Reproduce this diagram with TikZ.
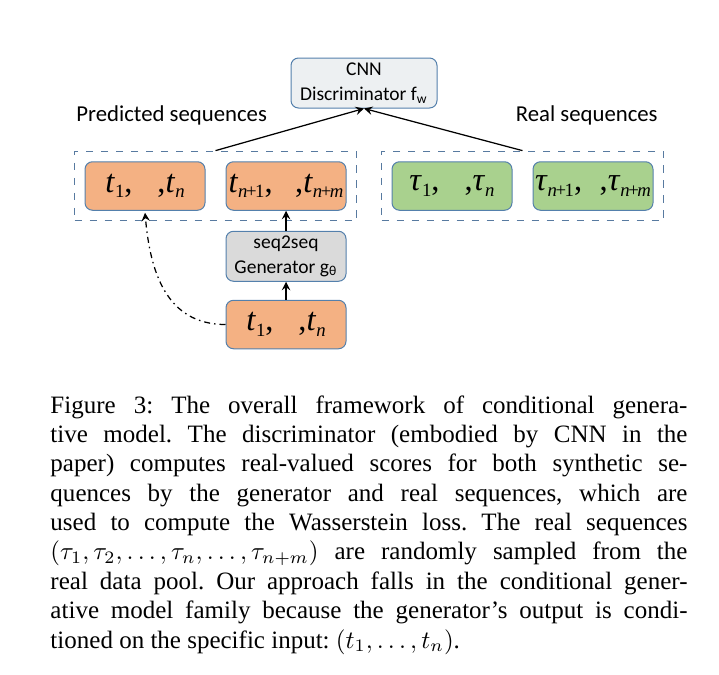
\documentclass[tikz,border=0pt]{standalone}
\usepackage{fontspec}
\setmainfont{Liberation Serif}
\newfontfamily\calib{Carlito}
\usepackage{tikz}
\usepackage{xcolor}
\usetikzlibrary{positioning,fit,calc}
\definecolor{boxline}{RGB}{84,128,172}
\definecolor{groupline}{RGB}{88,122,160}
\definecolor{predfill}{RGB}{244,177,131}
\definecolor{realfill}{RGB}{169,209,142}
\definecolor{cnnfill}{RGB}{237,240,242}
\definecolor{genfill}{RGB}{218,218,218}
\newcommand\seqsub[1]{\raisebox{-2.2pt}{\fontsize{7.5}{7.5}\selectfont #1}}
\newcommand\seqtok[2]{\textit{#1}\seqsub{#2}}
\newcommand\tplus{\kern-0.6pt\upshape+\kern-0.6pt}
\tikzset{
    seq-box/.style = {draw=boxline, line width=0.4pt, rectangle, rounded corners=3pt, minimum width=48pt, minimum height=19.4pt, inner sep=0pt, font=\rmfamily\fontsize{13}{13}\selectfont},
    orange-box/.style = {seq-box, fill=predfill},
    green-box/.style = {seq-box, fill=realfill},
    gray-box/.style = {seq-box, align=center, font=\calib\fontsize{7.8}{10}\selectfont},
    dashed-group/.style = {draw=groupline, dashed, line width=0.5pt, inner sep=4pt},
    seq-label/.style = {inner sep=0pt, font=\calib\fontsize{9.1}{10}\selectfont},
    caption-text/.style = {inner sep=0pt, text width=254.8pt, align=justify, font=\frenchspacing\fontsize{10}{11.75}\selectfont},
}

\begin{document}
\begin{tikzpicture}[x=0.4pt, y=-0.4pt, >=stealth]
\useasboundingbox (0,0) rectangle (719,674);
% discriminator
\node [gray-box, fill=cnnfill, minimum width=58.4pt, minimum height=20pt] (cnn) at (364,83) {CNN\\Discriminator f\textsubscript{w}};
% predicted sequences
\node [orange-box] (pred1) at (145,186) {\seqtok{t}{1},\hspace{10pt},\seqtok{t}{\textit{n}}};
\node [orange-box, right=8pt of pred1] (pred2) {\seqtok{t}{\textit{n}\tplus 1},\hspace{9pt},\seqtok{t}{\textit{n}\tplus\textit{m}}};
\node [dashed-group, fit=(pred1)(pred2)] (pred) {};
\node [seq-label, above right=10pt and 0.8pt] at (pred.north west) {Predicted sequences};
% real sequences
\node [green-box] (real1) at (452,186) {\seqtok{τ}{1},\hspace{10pt},\seqtok{τ}{\textit{n}}};
\node [green-box, right=8pt of real1] (real2) {\seqtok{τ}{\textit{n}\tplus 1},\hspace{7pt},\seqtok{τ}{\textit{n}\tplus\textit{m}}};
\node [dashed-group, fit=(real1)(real2)] (real) {};
\node [seq-label, above left=10pt and 2.4pt] at (real.north east) {Real sequences};
% generator
\node [gray-box, fill=genfill, below=8pt of pred2, minimum height=20pt] (gen) {seq2seq\\Generator g\textsubscript{θ}};
\node [orange-box, below=7.2pt of gen] (input) {\seqtok{t}{1},\hspace{10pt},\seqtok{t}{\textit{n}}};

\draw [->, line width=0.5pt] (pred.north) -- (cnn.south);
\draw [->, line width=0.5pt] (real.north) -- (cnn.south);
\draw [->, line width=0.5pt] (input.north) -- (gen.south);
\draw [->, line width=0.5pt] (gen.north) -- (pred2.south);
\draw [->, line width=0.5pt, dash pattern=on 2.4pt off 1.6pt on 0.6pt off 1.6pt] (input.west) to[out=180, in=-85, looseness=1.1] ($(pred1.south)+(0,2)$);

% caption
\node [caption-text, anchor=north west] (caption) at (50,395) {Figure 3: The overall framework of conditional genera-\linebreak
tive model. The discriminator (embodied by CNN in the\linebreak
paper) computes real-valued scores for both synthetic se-\linebreak
quences by the generator and real sequences, which are\linebreak
used to compute the Wasserstein loss. The real sequences\linebreak
$(\tau_1, \tau_2, \ldots, \tau_n, \ldots, \tau_{n+m})$ are randomly sampled from the\linebreak
real data pool. Our approach falls in the conditional gener-\linebreak
ative model family because the generator's output is condi-\linebreak
tioned on the specific input: $(t_1, \ldots, t_n)$.};
\end{tikzpicture}
\end{document}
